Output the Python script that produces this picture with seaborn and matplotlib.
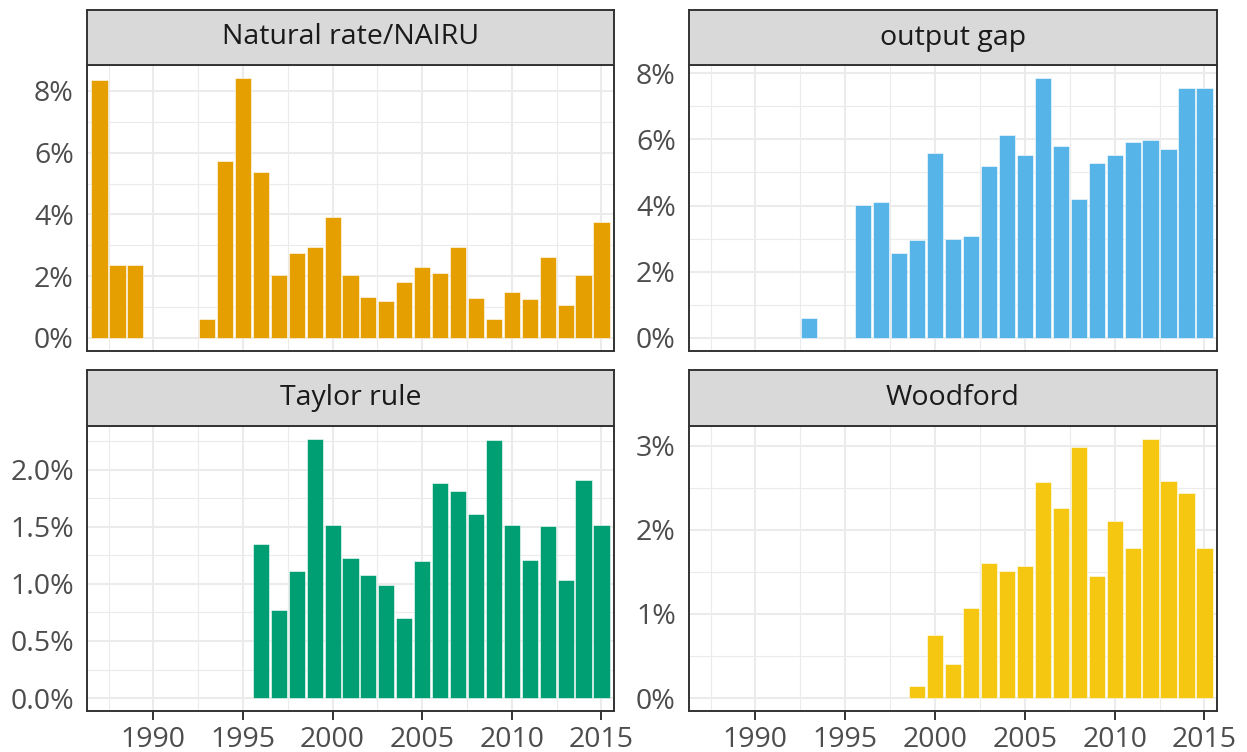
import numpy as np
import pandas as pd
import matplotlib
matplotlib.use("Agg")
import matplotlib.pyplot as plt
import seaborn as sns
from matplotlib.ticker import FuncFormatter, MultipleLocator

# data (values in %)
years_nairu = [1987, 1988, 1989, 1993, 1994, 1995, 1996, 1997, 1998, 1999, 2000,
               2001, 2002, 2003, 2004, 2005, 2006, 2007, 2008, 2009, 2010, 2011,
               2012, 2013, 2014, 2015]
nairu = [8.34, 2.35, 2.37, 0.61, 5.73, 8.42, 5.38, 2.05, 2.76, 2.96, 3.92,
         2.03, 1.32, 1.21, 1.80, 2.29, 2.11, 2.94, 1.28, 0.63, 1.50, 1.26,
         2.61, 1.08, 2.03, 3.75]

years_gap = [1993, 1996, 1997, 1998, 1999, 2000, 2001, 2002, 2003, 2004, 2005,
             2006, 2007, 2008, 2009, 2010, 2011, 2012, 2013, 2014, 2015]
output_gap = [0.61, 4.03, 4.12, 2.58, 2.95, 5.60, 2.99, 3.07, 5.20, 6.12, 5.52,
              7.85, 5.80, 4.19, 5.29, 5.52, 5.92, 5.97, 5.72, 7.56, 7.55]

years_taylor = [1996, 1997, 1998, 1999, 2000, 2001, 2002, 2003, 2004, 2005,
                2006, 2007, 2008, 2009, 2010, 2011, 2012, 2013, 2014, 2015]
taylor = [1.35, 0.77, 1.11, 2.27, 1.52, 1.23, 1.08, 0.99, 0.70, 1.20,
          1.88, 1.81, 1.61, 2.26, 1.52, 1.21, 1.51, 1.03, 1.91, 1.52]

years_woodford = [1999, 2000, 2001, 2002, 2003, 2004, 2005, 2006, 2007, 2008,
                  2009, 2010, 2011, 2012, 2013, 2014, 2015]
woodford = [0.14, 0.75, 0.40, 1.07, 1.61, 1.51, 1.57, 2.57, 2.26, 2.99,
            1.45, 2.11, 1.78, 3.08, 2.58, 2.44, 1.78]

x_ticks = [1990, 1995, 2000, 2005, 2010, 2015]

sns.set_theme(style="white")
plt.rcParams["font.family"] = ["Open Sans", "DejaVu Sans"]

W, H = 1247, 752
fig = plt.figure(figsize=(W / 100, H / 100), dpi=100)


def box(x0, y0, x1, y1):
    return [x0 / W, 1 - y1 / H, (x1 - x0) / W, (y1 - y0) / H]


panels = [
    ("Natural rate/NAIRU", years_nairu, nairu, "#E69F00", 2, 0, (87, 614, 10, 65, 351), False),
    ("output gap", years_gap, output_gap, "#56B4E9", 2, 0, (689, 1217, 10, 65, 351), False),
    ("Taylor rule", years_taylor, taylor, "#009E73", 0.5, 1, (87, 614, 370, 426, 711), True),
    ("Woodford", years_woodford, woodford, "#F5C710", 1, 0, (689, 1217, 370, 426, 711), True),
]

edge = "#333333"
fs = 20.5

for title, yrs, vals, col, step, dec, (x0, x1, s0, s1, p1), show_x in panels:
    df = pd.DataFrame({"year": yrs, "value": vals})

    ax = fig.add_axes(box(x0, s1, x1, p1))
    sns.barplot(data=df, x="year", y="value", native_scale=True, width=0.9,
                color=col, saturation=1, errorbar=None, linewidth=0.4,
                edgecolor="#ffffff", ax=ax, zorder=3)

    ymax = max(vals)
    ax.set_ylim(-0.05 * ymax, 1.05 * ymax)
    ax.set_xlim(1986.3, 2015.7)

    ax.set_xticks(x_ticks)
    ax.xaxis.set_minor_locator(MultipleLocator(2.5))
    ax.yaxis.set_major_locator(MultipleLocator(step))
    ax.yaxis.set_minor_locator(MultipleLocator(step / 2))
    ax.yaxis.set_major_formatter(FuncFormatter(lambda v, p, d=dec: f"{v:.{d}f}%"))

    ax.grid(True, which="major", color="#EBEBEB", linewidth=1.5, zorder=0)
    ax.grid(True, which="minor", color="#EBEBEB", linewidth=0.8, zorder=0)
    ax.set_axisbelow(True)

    ax.set_xlabel("")
    ax.set_ylabel("")
    ax.tick_params(axis="both", which="major", length=6.5, width=1.4, color=edge,
                   labelsize=fs, labelcolor="#4D4D4D", direction="out")
    ax.tick_params(axis="y", pad=3)
    ax.tick_params(axis="x", pad=4.5, bottom=show_x, labelbottom=show_x)
    ax.tick_params(which="minor", length=0)
    for sp in ax.spines.values():
        sp.set_color(edge)
        sp.set_linewidth(1.4)

    # facet strip
    st = fig.add_axes(box(x0, s0, x1, s1))
    st.set_facecolor("#D9D9D9")
    st.set_xticks([])
    st.set_yticks([])
    for sp in st.spines.values():
        sp.set_color(edge)
        sp.set_linewidth(1.4)
    st.text(0.5, 0.5, title, ha="center", va="center", fontsize=fs,
            color="#1A1A1A", transform=st.transAxes)

fig.savefig("out.png", dpi=100, facecolor="white")
